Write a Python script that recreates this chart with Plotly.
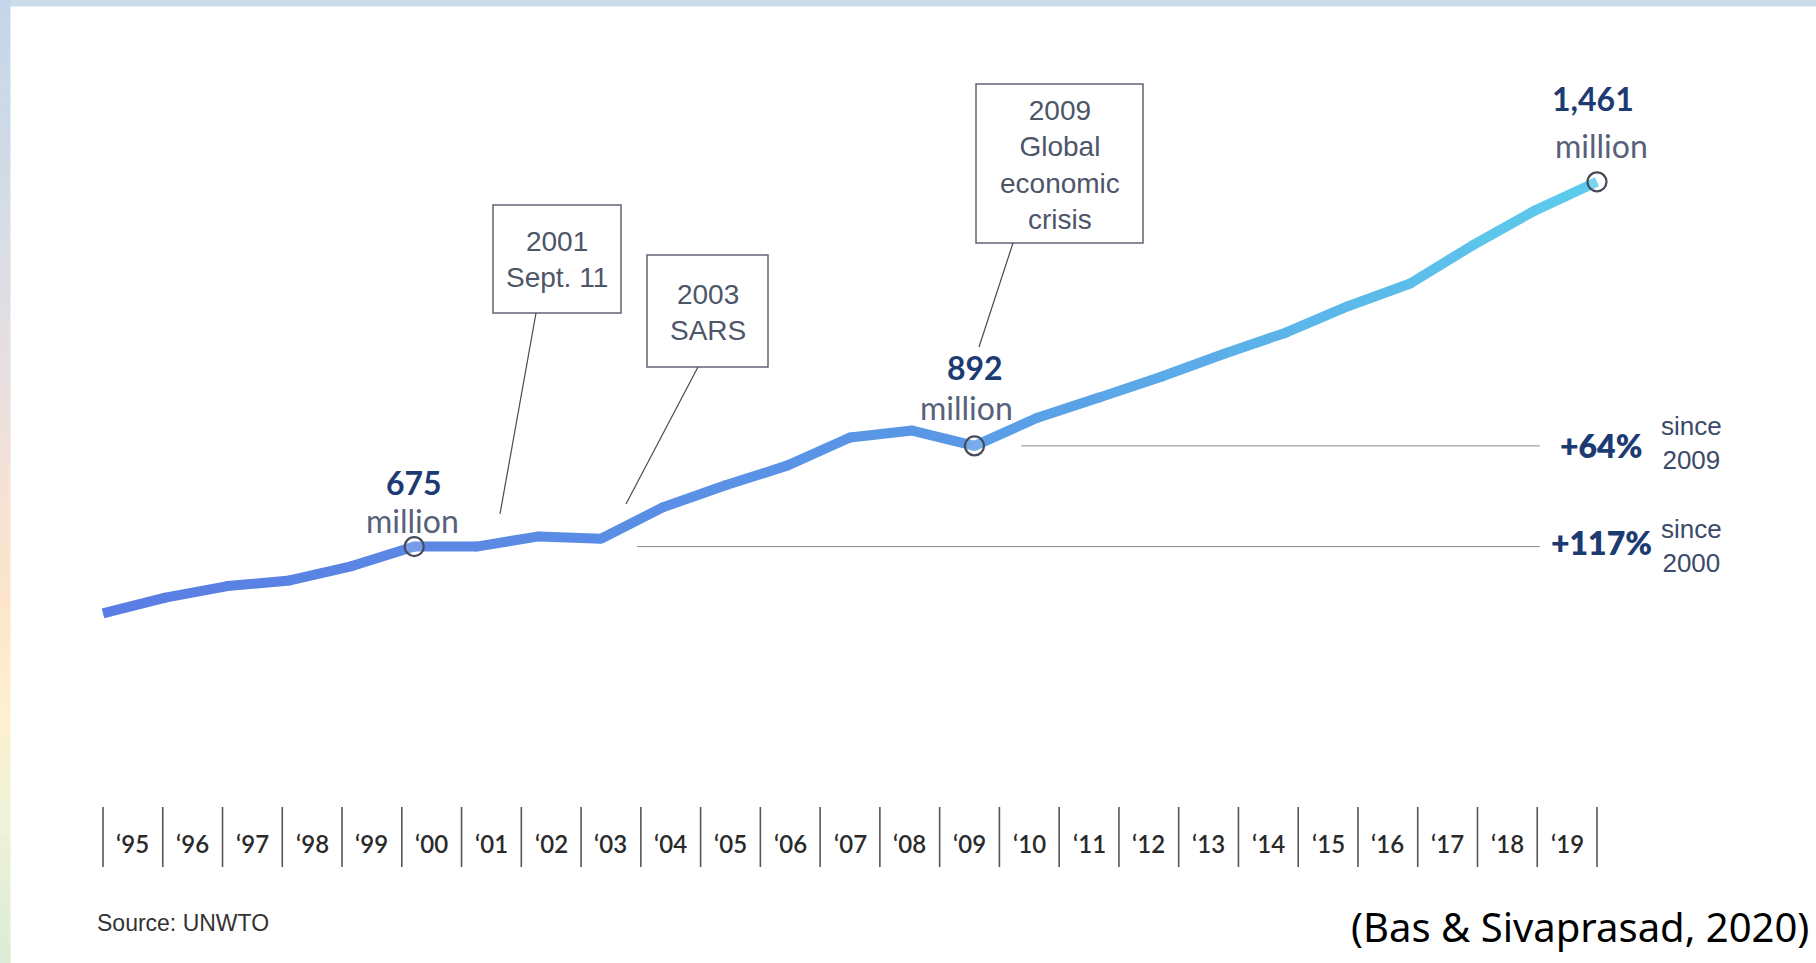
import plotly.graph_objects as go

W, H = 1816, 963

# ---- data -------------------------------------------------------------
years = list(range(1995, 2020))
arrivals = [531, 565, 590, 602, 633, 675, 675, 697, 692, 760, 807, 850, 910, 925, 892,
            952, 996, 1041, 1090, 1136, 1193, 1242, 1324, 1399, 1461]
tick_labels = ["\u201895", "\u201896", "\u201897", "\u201898", "\u201899", "\u201800",
               "\u201801", "\u201802", "\u201803", "\u201804", "\u201805", "\u201806",
               "\u201807", "\u201808", "\u201809", "\u201810", "\u201811", "\u201812",
               "\u201813", "\u201814", "\u201815", "\u201816", "\u201817", "\u201818",
               "\u201819"]

milestone_years = [2000, 2009, 2019]
milestone_text = ["675", "892", "1,461"]

event_text = ["2001<br>Sept. 11", "2003<br>SARS", "2009<br>Global<br>economic<br>crisis"]

growth_text = ["+64%", "+117%"]
growth_since = ["since<br>2009", "since<br>2000"]
growth_base_years = [2009, 2000]

# ---- helpers ----------------------------------------------------------
def px(x):
    return x / W


def py(y):
    return 1 - y / H


def hex2rgb(h):
    h = h.lstrip("#")
    return tuple(int(h[i:i + 2], 16) for i in (0, 2, 4))


def blend(stops, t):
    for (t0, c0), (t1, c1) in zip(stops[:-1], stops[1:]):
        if t0 <= t <= t1:
            f = 0 if t1 == t0 else (t - t0) / (t1 - t0)
            a, b = hex2rgb(c0), hex2rgb(c1)
            return "rgb(%d,%d,%d)" % tuple(round(a[i] + (b[i] - a[i]) * f) for i in range(3))
    return stops[-1][1]


NAVY = "#1d3b73"
GREY_TXT = "#4d5668"

# axis scaling: one year = 62.25 px, one million arrivals = 0.4641 px
X_PER_YEAR = 62.25
X_ORIGIN = 103
Y_PER_M = 0.4641
Y_REF_V, Y_REF_PX = 675, 546.6
x_range = [years[0] - X_ORIGIN / X_PER_YEAR, years[0] + (W - X_ORIGIN) / X_PER_YEAR]
y_range = [Y_REF_V - (H - Y_REF_PX) / Y_PER_M, Y_REF_V + Y_REF_PX / Y_PER_M]

fig = go.Figure()

# ---- main line, coloured from blue to cyan ---------------------------
line_stops = [(0.0, "#5a7de3"), (0.55, "#5a97e6"), (1.0, "#5ccdec")]
n = len(years)
pt_colors = [blend(line_stops, i / (n - 1)) for i in range(n)]
for i in range(n - 1):
    fig.add_trace(go.Scatter(
        x=years[i:i + 2], y=arrivals[i:i + 2], mode="lines",
        line=dict(color=blend(line_stops, (i + 0.5) / (n - 1)), width=10),
        hoverinfo="skip", showlegend=False))
fig.add_trace(go.Scatter(
    x=years[1:-1], y=arrivals[1:-1], mode="markers",
    marker=dict(size=10, color=pt_colors[1:-1], line=dict(width=0)),
    hoverinfo="skip", showlegend=False))

# milestone rings
ms_vals = [arrivals[years.index(y)] for y in milestone_years]
fig.add_trace(go.Scatter(
    x=milestone_years, y=ms_vals, mode="markers",
    marker=dict(size=19, color="rgba(255,255,255,0.18)", line=dict(color="#454b5a", width=2.2)),
    hoverinfo="skip", showlegend=False))

annotations = []
shapes = []

# milestone labels
ms_offsets = [(0, 64, -2, 26), (0, 78, -8, 38), (-4, 83, 4, 36)]
for yr, v, txt, (dx1, dy1, dx2, dy2) in zip(milestone_years, ms_vals, milestone_text, ms_offsets):
    annotations.append(dict(x=yr, y=v, xref="x", yref="y", text=txt, showarrow=False,
                            xshift=dx1, yshift=dy1, xanchor="center", yanchor="middle",
                            font=dict(family="Lato", size=32, color=NAVY, weight=700)))
    annotations.append(dict(x=yr, y=v, xref="x", yref="y", text="million", showarrow=False,
                            xshift=dx2, yshift=dy2, xanchor="center", yanchor="middle",
                            font=dict(family="Lato", size=32, color="#57617a")))

# event call-out boxes (pixel boxes) with leader lines
event_boxes = [(493, 205, 621, 313), (647, 255, 768, 367), (976, 84, 1143, 243)]
event_leaders = [((536, 313), (500, 514)), ((698, 367), (626, 504)), ((1013, 243), (979, 347))]
for txt, (x0, y0, x1, y1), ((lx0, ly0), (lx1, ly1)) in zip(event_text, event_boxes, event_leaders):
    shapes.append(dict(type="rect", xref="paper", yref="paper",
                       x0=px(x0), x1=px(x1), y0=py(y1), y1=py(y0),
                       line=dict(color="#5f6675", width=1.5), fillcolor="rgba(255,255,255,0)"))
    shapes.append(dict(type="line", xref="paper", yref="paper",
                       x0=px(lx0), y0=py(ly0), x1=px(lx1), y1=py(ly1),
                       line=dict(color="#4a4a4a", width=1.2)))
    annotations.append(dict(x=px((x0 + x1) / 2), y=py((y0 + y1) / 2 + 1), xref="paper", yref="paper",
                            text=txt, showarrow=False, xanchor="center", yanchor="middle",
                            align="center",
                            font=dict(family="Liberation Sans", size=28, color=GREY_TXT)))

# growth reference lines and labels
growth_line_start = [2009.75, 2003.58]
growth_line_end = 2018.08
growth_label_y = [445, 542]
growth_since_y = [443, 546]
for base, xs, txt, since, ly, sy in zip(growth_base_years, growth_line_start, growth_text,
                                        growth_since, growth_label_y, growth_since_y):
    v = arrivals[years.index(base)]
    shapes.append(dict(type="line", xref="x", yref="y", x0=xs, x1=growth_line_end, y0=v, y1=v,
                       line=dict(color="#8a8a8a", width=1)))
    annotations.append(dict(x=px(1601), y=py(ly), xref="paper", yref="paper", text=txt,
                            showarrow=False, xanchor="center", yanchor="middle",
                            font=dict(family="Lato", size=32, color=NAVY, weight=800)))
    annotations.append(dict(x=px(1691), y=py(sy), xref="paper", yref="paper", text=since,
                            showarrow=False, xanchor="center", yanchor="middle", align="center",
                            font=dict(family="Liberation Sans", size=26, color="#3b4a68")))

# year scale: separators and labels beneath the chart
slot = (years[-1] - years[0]) / len(tick_labels)
for k in range(len(tick_labels) + 1):
    xs = years[0] + k * slot
    shapes.append(dict(type="line", xref="x", yref="paper", x0=xs, x1=xs,
                       y0=py(867), y1=py(807), line=dict(color="#555555", width=1.6)))
for k, lab in enumerate(tick_labels):
    annotations.append(dict(x=years[0] + (k + 0.5) * slot, y=py(843), xref="x", yref="paper",
                            text=lab, showarrow=False, xanchor="center", yanchor="middle",
                            font=dict(family="Lato", size=24, color="#2a2a2a", weight=600)))

# source and citation
annotations.append(dict(x=px(95), y=py(923), xref="paper", yref="paper", text="Source: UNWTO",
                        showarrow=False, xanchor="left", yanchor="middle",
                        font=dict(family="Liberation Sans", size=23, color="#333333")))
annotations.append(dict(x=px(1811), y=py(926), xref="paper", yref="paper",
                        text="(Bas & Sivaprasad, 2020)", showarrow=False,
                        xanchor="right", yanchor="middle",
                        font=dict(family="Noto Sans", size=40, color="#000000")))

# frame: light blue top strip and tinted left strip
shapes.append(dict(type="rect", xref="paper", yref="paper", x0=0, x1=1, y0=py(6.5), y1=1,
                   line=dict(width=0), fillcolor="#ccdcea", layer="below"))
strip_stops = [(0.0, "#c4d6ea"), (0.2, "#d3dce6"), (0.4, "#e8dfdf"), (0.5, "#f6e2d6"),
               (0.62, "#fde5cc"), (0.75, "#fdf0d0"), (0.85, "#eef2d8"), (1.0, "#dcecd6")]
bands = 60
for b in range(bands):
    y0 = b * H / bands
    y1 = (b + 1) * H / bands
    shapes.append(dict(type="rect", xref="paper", yref="paper", x0=0, x1=px(10.5),
                       y0=py(y1 + 0.5), y1=py(y0),
                       line=dict(width=0), fillcolor=blend(strip_stops, (b + 0.5) / bands),
                       layer="below"))

fig.update_layout(
    width=W, height=H,
    margin=dict(l=0, r=0, t=0, b=0),
    paper_bgcolor="white", plot_bgcolor="white",
    xaxis=dict(range=x_range, visible=False, domain=[0, 1], fixedrange=True),
    yaxis=dict(range=y_range, visible=False, domain=[0, 1], fixedrange=True),
    annotations=annotations,
    shapes=shapes,
    showlegend=False,
)

fig.write_html("out.html")
